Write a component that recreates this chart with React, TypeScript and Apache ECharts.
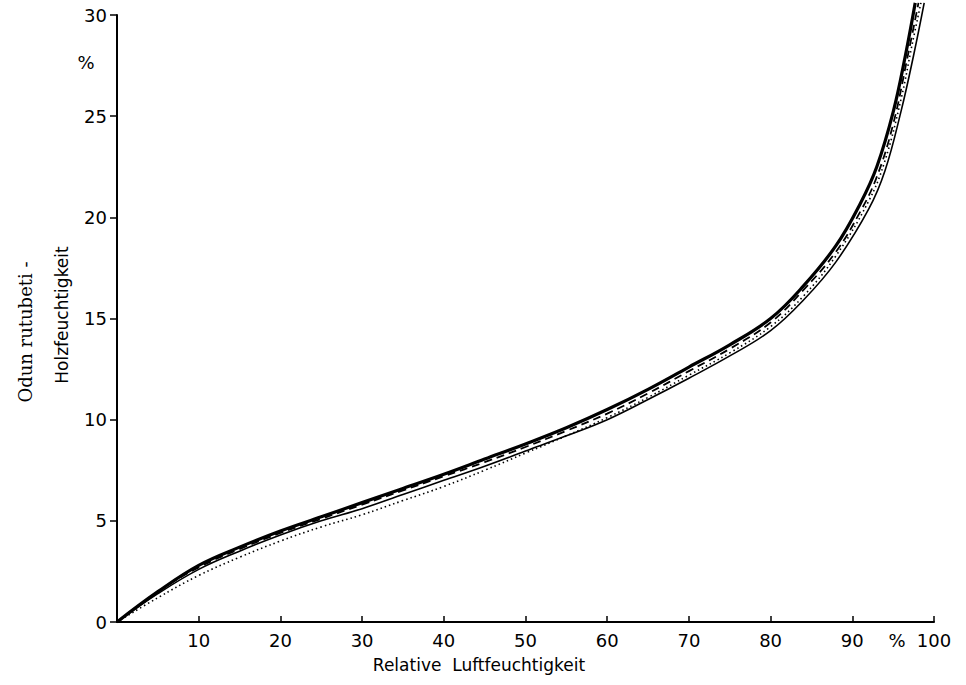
import React, { useEffect, useRef } from "react";
import * as echarts from "echarts";

// Relative humidity (%) and wood moisture content (%) for the curves
const thickX = [0, 5, 10, 15, 20, 25, 30, 35, 40, 45, 50, 55, 60, 65, 70, 75, 80, 84, 88, 91, 93, 95, 96.5, 97.7];
const thickY = [0, 1.5, 2.8, 3.7, 4.5, 5.2, 5.9, 6.6, 7.3, 8.05, 8.8, 9.6, 10.5, 11.5, 12.6, 13.7, 15.0, 16.6, 18.6, 20.7, 22.5, 25.2, 28.0, 30.6];

const dashedX = [0, 5, 10, 15, 20, 25, 30, 35, 40, 45, 50, 55, 60, 65, 70, 75, 80, 84, 88, 91, 93, 95, 96.8, 98.1];
const dashedY = [0, 1.5, 2.7, 3.6, 4.4, 5.1, 5.8, 6.5, 7.2, 7.9, 8.65, 9.45, 10.3, 11.3, 12.4, 13.5, 14.8, 16.4, 18.3, 20.3, 22.0, 24.6, 28.0, 30.6];

const dottedX = [0, 5, 10, 15, 20, 25, 30, 35, 40, 45, 50, 55, 60, 65, 70, 75, 80, 84, 88, 92, 94, 96, 97.3, 98.4];
const dottedY = [0, 1.2, 2.3, 3.2, 4.0, 4.7, 5.3, 6.0, 6.7, 7.5, 8.35, 9.2, 10.1, 11.1, 12.2, 13.3, 14.6, 16.1, 18.1, 20.8, 22.8, 25.9, 28.5, 30.6];

const thinX = [0, 5, 10, 15, 20, 25, 30, 35, 40, 45, 50, 55, 60, 65, 70, 75, 80, 84, 88, 92, 94, 96, 97.5, 98.8];
const thinY = [0, 1.4, 2.6, 3.5, 4.3, 5.0, 5.6, 6.3, 7.0, 7.7, 8.45, 9.2, 10.0, 11.0, 12.05, 13.15, 14.4, 15.9, 17.8, 20.4, 22.3, 25.3, 28.0, 30.6];

const xTicks = [10, 20, 30, 40, 50, 60, 70, 80, 90, 100];
const yTicks = [0, 5, 10, 15, 20, 25, 30];

const pairs = (xs: number[], ys: number[]) => xs.map((x, i) => [x, ys[i]]);

export default function App() {
  const ref = useRef<HTMLDivElement>(null);
  useEffect(() => {
    if (!ref.current) return;
    const chart = echarts.init(ref.current, null, { renderer: "svg" });
    const font = "DejaVu Sans";
    const lineBase = { type: "line", showSymbol: false, symbol: "none", smooth: 0.4, clip: false, silent: true } as any;
    chart.setOption({
      animation: false,
      backgroundColor: "#ffffff",
      grid: { left: 117, right: 32, top: 15, bottom: 63 },
      xAxis: {
        type: "value",
        min: 0,
        max: 100,
        interval: 10,
        axisLine: { show: true, lineStyle: { color: "#000", width: 2 } },
        axisTick: { show: true, inside: true, length: 6, lineStyle: { color: "#000", width: 1.5 } },
        axisLabel: {
          color: "#000",
          fontFamily: font,
          fontSize: 18,
          margin: 9,
          formatter: (v: number) => (xTicks.includes(v) ? String(v) : ""),
        },
        splitLine: { show: false },
      },
      yAxis: {
        type: "value",
        min: 0,
        max: 30,
        interval: 5,
        axisLine: { show: true, lineStyle: { color: "#000", width: 2 } },
        axisTick: { show: true, inside: false, length: 7, lineStyle: { color: "#000", width: 1.5 } },
        axisLabel: {
          color: "#000",
          fontFamily: font,
          fontSize: 18,
          margin: 10,
          formatter: (v: number) => (yTicks.includes(v) ? String(v) : ""),
        },
        splitLine: { show: false },
      },
      series: [
        { ...lineBase, name: "thin", data: pairs(thinX, thinY), lineStyle: { color: "#000", width: 1.6 } },
        { ...lineBase, name: "dotted", data: pairs(dottedX, dottedY), lineStyle: { color: "#000", width: 1.6, type: [1.5, 3] } },
        { ...lineBase, name: "dashed", data: pairs(dashedX, dashedY), lineStyle: { color: "#000", width: 1.8, type: [8, 5] } },
        { ...lineBase, name: "thick", data: pairs(thickX, thickY), lineStyle: { color: "#000", width: 3.2 } },
      ],
      graphic: [
        { type: "text", x: 86, y: 62, style: { text: "%", fontFamily: font, fontSize: 18, fill: "#000", textAlign: "center", textVerticalAlign: "middle" } },
        { type: "text", x: 897, y: 640, style: { text: "%", fontFamily: font, fontSize: 18, fill: "#000", textAlign: "center", textVerticalAlign: "middle" } },
        { type: "text", x: 479, y: 665, style: { text: "Relative  Luftfeuchtigkeit", fontFamily: font, fontSize: 17, fill: "#000", textAlign: "center", textVerticalAlign: "middle" } },
        { type: "text", x: 25, y: 332, rotation: Math.PI / 2, style: { text: "Odun rutubeti -", fontFamily: "DejaVu Serif", fontSize: 18, fill: "#000", textAlign: "center", textVerticalAlign: "middle" } },
        { type: "text", x: 62, y: 315, rotation: Math.PI / 2, style: { text: "Holzfeuchtigkeit", fontFamily: font, fontSize: 17, fill: "#000", textAlign: "center", textVerticalAlign: "middle" } },
      ],
    });
    return () => chart.dispose();
  }, []);
  return <div ref={ref} style={{ width: 966, height: 685, position: "absolute", left: 0, top: 0 }} />;
}
